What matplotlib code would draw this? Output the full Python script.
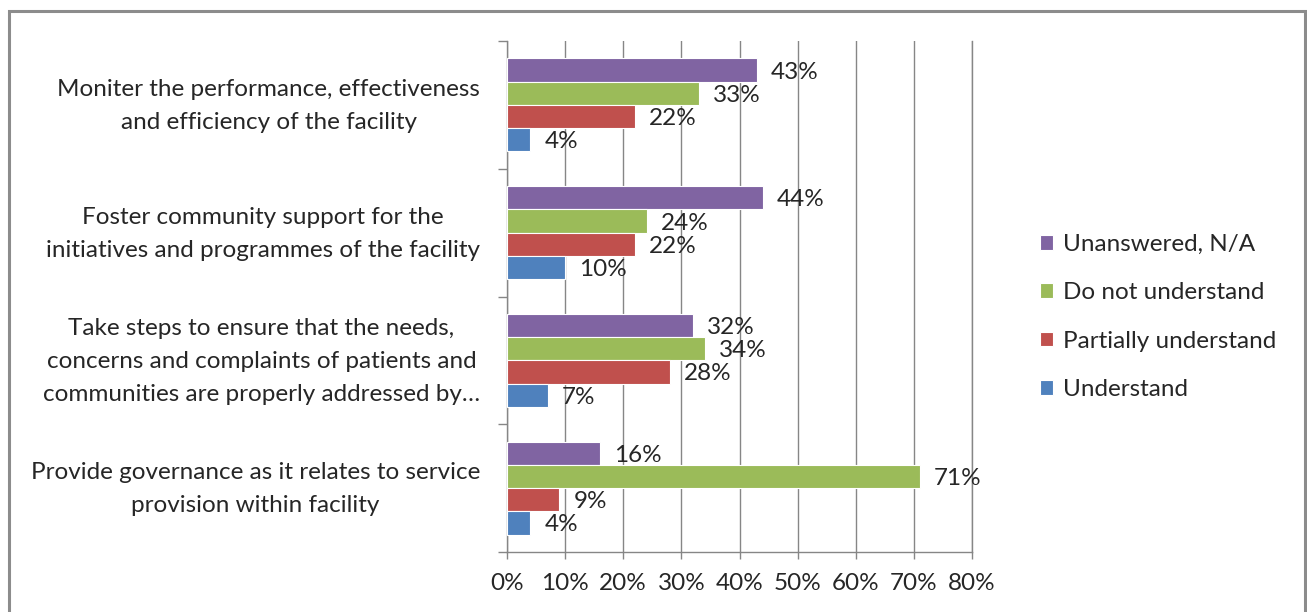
import matplotlib
matplotlib.use("Agg")
import matplotlib.pyplot as plt
from matplotlib.patches import Rectangle
from matplotlib.transforms import blended_transform_factory, ScaledTranslation
import numpy as np

plt.rcParams['font.family'] = ['Lato', 'DejaVu Sans']

categories = [
    "Moniter the performance, effectiveness\nand efficiency of the facility",
    "Foster community support for the\ninitiatives and programmes of the facility",
    "Take steps to ensure that the needs,\nconcerns and complaints of patients and\ncommunities are properly addressed by…",
    "Provide governance as it relates to service\nprovision within facility",
]
series_names = ["Unanswered, N/A", "Do not understand", "Partially understand", "Understand"]
unanswered = [43, 44, 32, 16]
do_not_understand = [33, 24, 34, 71]
partially_understand = [22, 22, 28, 9]
understand = [4, 10, 7, 4]
series_values = [unanswered, do_not_understand, partially_understand, understand]
colors = ["#8064A2", "#9BBB59", "#C0504D", "#4F81BD"]
x_ticks = [0, 10, 20, 30, 40, 50, 60, 70, 80]
x_ticklabels = ["0%", "10%", "20%", "30%", "40%", "50%", "60%", "70%", "80%"]

W, H = 1307, 612
fig = plt.figure(figsize=(W / 100, H / 100), dpi=100)
ax = fig.add_axes([507 / W, 1 - 552 / H, (972 - 507) / W, (552 - 41) / H])

grid_c = "#868686"
text_c = "#262626"
fs = 17.5

n = len(series_names)
h = 1 / (n + 1.5)
y = np.arange(len(categories))
handles = []
for i, (name, vals, c) in enumerate(zip(series_names, series_values, colors)):
    pos = y + (i - (n - 1) / 2) * h
    bars = ax.barh(pos, vals, height=h, color=c, edgecolor="white", linewidth=0.8,
                   label=name, zorder=3)
    handles.append(bars)
    for p, v in zip(pos, vals):
        ax.annotate(f"{v}%", xy=(v, p), xytext=(14, -2), textcoords="offset pixels",
                    ha="left", va="center", fontsize=fs, color=text_c, zorder=4)

ax.set_xlim(0, 80)
ax.set_ylim(len(categories) - 0.5, -0.5)
ax.set_xticks(x_ticks)
ax.set_xticklabels(x_ticklabels, fontsize=fs, color=text_c)
ax.set_yticks(np.arange(-0.5, len(categories), 1.0))
ax.set_yticklabels([])
ax.tick_params(axis="y", which="major", length=6.5, width=1, color=grid_c, direction="out")
ax.tick_params(axis="x", length=5, width=1, color=grid_c, direction="out", pad=10)

# category names, right-aligned left of the axis and centred on each group
cat_tr = blended_transform_factory(ax.transAxes, ax.transData) + \
    ScaledTranslation(-27 / 100, -1 / 100, fig.dpi_scale_trans)
for yi, cat in zip(y, categories):
    ax.text(0, yi, cat, transform=cat_tr, ha="right", va="center",
            multialignment="center", linespacing=1.7, fontsize=fs, color=text_c)

ax.xaxis.grid(True, color=grid_c, linewidth=1, zorder=0)
ax.axvline(80, color=grid_c, linewidth=1, clip_on=False, zorder=0)
ax.set_axisbelow(True)
for s in ["top", "right"]:
    ax.spines[s].set_visible(False)
for s in ["left", "bottom"]:
    ax.spines[s].set_color(grid_c)
    ax.spines[s].set_linewidth(1)

fig.legend(handles=handles, labels=series_names, loc="center left",
           bbox_to_anchor=(1040 / W, 1 - 317 / H), frameon=False, fontsize=fs,
           borderpad=0, borderaxespad=0,
           handlelength=0.55, handleheight=0.55, handletextpad=0.4,
           labelspacing=1.13, labelcolor=text_c)

fig.patches.append(Rectangle((9 / W, -0.05), (1305 - 9) / W, 1.05 - 11 / H,
                             transform=fig.transFigure, fill=False,
                             edgecolor="#8c8c8c", linewidth=2.2))

fig.savefig("out.png", dpi=100, facecolor="white")
